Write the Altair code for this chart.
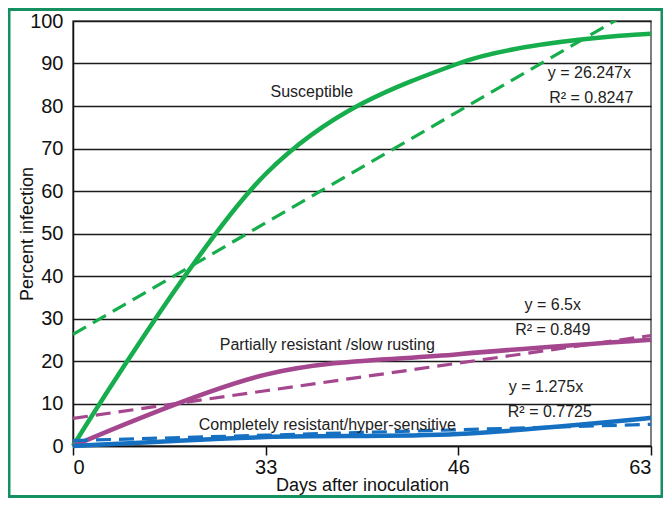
import json
import altair as alt
import pandas as pd

# ---- data ----
days = [0, 33, 46, 63]
series_names = ["Susceptible", "Partially resistant", "Completely resistant"]
susceptible = [0, 64, 90, 97]
partial = [0, 16.8, 21.6, 25]
complete = [0, 2.1, 2.8, 6.6]
trend_slopes = [26.247, 6.5, 1.275]
colors = ["#16ad4c", "#a5478e", "#1670c2"]

# annotation texts and their data-space positions (x index, y value)
ann_text = ["Susceptible", "y = 26.247x", "R² = 0.8247",
            "Partially resistant /slow rusting", "y = 6.5x", "R² = 0.849",
            "Completely resistant/hyper-sensitive", "y = 1.275x", "R² = 0.7725"]
ann_x = [1.24, 2.68, 2.69, 1.32, 2.49, 2.49, 1.32, 2.455, 2.475]
ann_y = [83.3, 87.8, 81.9, 23.8, 33.2, 27.3, 4.9, 13.9, 8.0]

FONT = "Liberation Sans, Arial, sans-serif"

rows = []
for name, vals in zip(series_names, [susceptible, partial, complete]):
    for i, v in enumerate(vals):
        rows.append({"series": name, "idx": i, "value": v})
solid_df = pd.DataFrame(rows)

trows = []
for name, s in zip(series_names, trend_slopes):
    for i in range(len(days)):
        trows.append({"series": name, "idx": i, "value": s * (i + 1)})
trend_df = pd.DataFrame(trows)

ann_df = pd.DataFrame({"text": ann_text, "x": ann_x, "y": ann_y})

label_expr = json.dumps([str(d) for d in days]) + "[datum.value]"

xscale = alt.Scale(domain=[0, len(days) - 1], nice=False, zero=False)
yscale = alt.Scale(domain=[0, 100], nice=False)
cscale = alt.Scale(domain=series_names, range=colors)

xaxis = alt.Axis(values=list(range(len(days))), labelExpr=label_expr,
                 title="Days after inoculation", grid=False,
                 tickSize=9, tickColor="#111", tickWidth=1.5,
                 domainColor="#111", domainWidth=1.5,
                 labelFont=FONT, labelFontSize=20, labelColor="#111",
                 labelPadding=2, titleFont=FONT, titleFontSize=18,
                 titleFontWeight="normal", titleColor="#111",
                 titleY=39, titleBaseline="middle")
yaxis = alt.Axis(values=list(range(0, 101, 10)), title="Percent infection",
                 grid=True, gridColor="#1a1a1a", gridWidth=1.5,
                 ticks=False, domainColor="#111", domainWidth=1.5,
                 labelFont=FONT, labelFontSize=20, labelColor="#111",
                 labelPadding=10, titleFont=FONT, titleFontSize=18,
                 titleFontWeight="normal", titleColor="#111",
                 titleX=-46, titleBaseline="middle")

base_solid = alt.Chart(solid_df).mark_line(
    strokeWidth=4.5, interpolate="cardinal"
).encode(
    x=alt.X("idx:Q", scale=xscale, axis=xaxis),
    y=alt.Y("value:Q", scale=yscale, axis=yaxis),
    color=alt.Color("series:N", scale=cscale, legend=None),
    detail="series:N",
)

trend = alt.Chart(trend_df).mark_line(
    strokeWidth=3.2, strokeDash=[15, 8], clip=True
).encode(
    x=alt.X("idx:Q", scale=xscale),
    y=alt.Y("value:Q", scale=yscale),
    color=alt.Color("series:N", scale=cscale, legend=None),
    detail="series:N",
)

ann = alt.Chart(ann_df).mark_text(
    font=FONT, fontSize=16, color="#222", align="center", baseline="middle"
).encode(
    x=alt.X("x:Q", scale=xscale),
    y=alt.Y("y:Q", scale=yscale),
    text="text:N",
)

border = alt.Chart(alt.Data(values=[{}])).mark_rect(
    filled=False, stroke="#159060", strokeWidth=3, clip=False
).encode(
    x=alt.value(-64), x2=alt.value(589),
    y=alt.value(-11.5), y2=alt.value(475.5),
)

chart = alt.layer(base_solid, trend, ann, border).properties(
    width=578, height=425,
    autosize=alt.AutoSizeParams(type="none"),
    padding={"left": 65, "top": 13, "right": 12, "bottom": 52},
    background="white",
).configure_view(stroke="#555", strokeWidth=1.5)

chart.save("out.html", embed_options={"renderer": "svg", "actions": False})
